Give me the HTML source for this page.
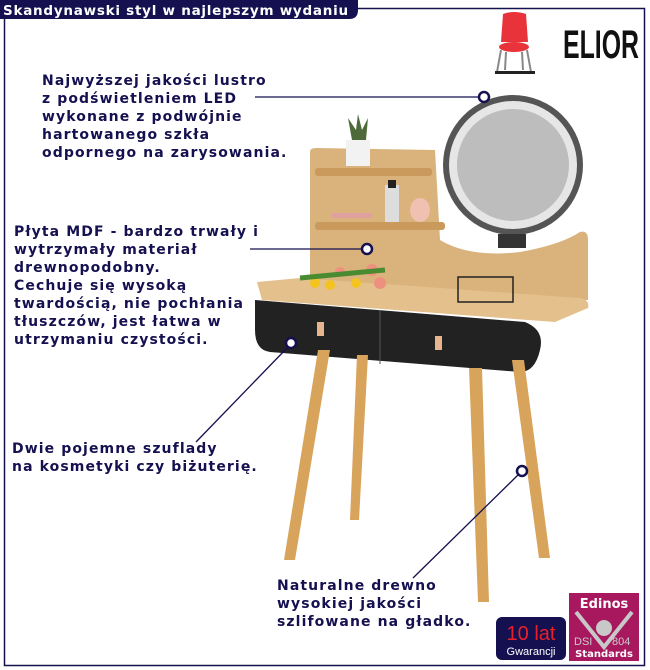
<!DOCTYPE html>
<html><head><meta charset="utf-8"><style>
body{margin:0;width:650px;height:670px;background:#fff;overflow:hidden}
svg{display:block}
.t{font-family:"DejaVu Sans",Verdana,sans-serif;font-weight:bold;font-size:14px;letter-spacing:1.1px;fill:#15104f}
</style></head><body>
<svg width="650" height="670" viewBox="0 0 650 670">
<rect x="4.5" y="8.5" width="640" height="657" fill="none" stroke="#15104f" stroke-width="1.5"/>
<path d="M0 0 H358 V10 Q358 19 349 19 H0 Z" fill="#15104f"/>
<text x="3" y="15" font-family="DejaVu Sans,sans-serif" font-weight="bold" font-size="13.5" letter-spacing="0.75" fill="#fff">Skandynawski styl w najlepszym wydaniu</text>
<!-- chair logo -->
<path d="M503 14 Q514 10 526 14 L528 42 L501 42 Z" fill="#e8333a"/>
<ellipse cx="514" cy="47" rx="15" ry="5" fill="#e8333a"/>
<path d="M501 50 L497 72 M527 50 L531 72 M506 52 L505 70 M522 52 L523 70" stroke="#888" stroke-width="2"/>
<rect x="495" y="71" width="40" height="3" fill="#222"/>
<text x="563" y="58" font-family="Liberation Sans Narrow,Liberation Sans,sans-serif" font-weight="bold" font-size="40" fill="#111" textLength="76" lengthAdjust="spacingAndGlyphs">ELIOR</text>
<!-- furniture -->
<path d="M310 152 Q310 148 316 148 L435 150 L440 240 Q470 258 520 252 Q560 245 580 232 Q588 230 588 240 L588 300 L310 300 Z" fill="#d9b27c"/>
<rect x="315" y="168" width="117" height="8" rx="3" fill="#c99a5c"/>
<rect x="315" y="222" width="130" height="8" rx="3" fill="#c99a5c"/>
<rect x="346" y="140" width="24" height="26" fill="#f2f2f2"/>
<path d="M352 140 L348 118 L356 130 L358 114 L362 130 L368 118 L366 140 Z" fill="#4f6a3a"/>
<rect x="385" y="185" width="14" height="37" fill="#ddd"/><rect x="388" y="180" width="8" height="8" fill="#222"/>
<ellipse cx="420" cy="210" rx="10" ry="12" fill="#f0c0b0"/>
<rect x="332" y="213" width="40" height="5" fill="#e0a0a0"/>
<circle cx="513" cy="165" r="70" fill="#555"/>
<circle cx="513" cy="165" r="64" fill="#e6e6e6"/>
<circle cx="513" cy="165" r="56" fill="#bdbdbd"/>
<rect x="498" y="234" width="28" height="14" fill="#333"/>
<path d="M257 282 L300 278 L580 298 Q590 300 588 308 L555 322 L262 300 Z" fill="#e3c08c"/>
<path d="M255 300 L525 322 Q545 330 540 350 Q535 372 520 372 L270 352 Q255 350 255 330 Z" fill="#222"/>
<line x1="380" y1="310" x2="380" y2="364" stroke="#555"/>
<rect x="317" y="322" width="7" height="14" fill="#e6b48f"/><rect x="435" y="336" width="7" height="14" fill="#e6b48f"/>
<path d="M318 350 L330 350 L295 560 L284 560 Z" fill="#d8a45c"/>
<path d="M357 355 L368 355 L359 520 L350 520 Z" fill="#d8a45c"/>
<path d="M469 368 L482 368 L489 602 L478 602 Z" fill="#d8a45c"/>
<path d="M512 360 L524 360 L550 558 L539 558 Z" fill="#d8a45c"/>
<g fill="#f3c320"><circle cx="315" cy="283" r="5"/><circle cx="330" cy="285" r="5"/><circle cx="356" cy="283" r="5"/></g>
<g fill="#ee9080"><circle cx="340" cy="272" r="5"/><circle cx="372" cy="270" r="6"/><circle cx="380" cy="283" r="6"/></g>
<path d="M300 278 L385 270" stroke="#4a8a30" stroke-width="5"/>
<rect x="458" y="277" width="55" height="25" fill="none" stroke="#222" stroke-width="1.5"/>
<!-- callouts -->
<g stroke="#15104f" stroke-width="1.3" fill="none">
<line x1="255" y1="97" x2="479" y2="97"/>
<line x1="250" y1="249" x2="362" y2="249"/>
<line x1="288" y1="347" x2="196" y2="442"/>
<line x1="518" y1="475" x2="413" y2="578"/>
</g>
<g fill="#fff" stroke="#15104f" stroke-width="2.5">
<circle cx="484" cy="97" r="5"/><circle cx="367" cy="249" r="5"/><circle cx="291" cy="343" r="5"/><circle cx="522" cy="471" r="5"/>
</g>
<text class="t"><tspan x="42" y="85">Najwyższej jakości lustro</tspan><tspan x="42" y="103">z podświetleniem LED</tspan><tspan x="42" y="121">wykonane z podwójnie</tspan><tspan x="42" y="139">hartowanego szkła</tspan><tspan x="42" y="157">odpornego na zarysowania.</tspan></text>
<text class="t"><tspan x="14" y="236">Płyta MDF - bardzo trwały i</tspan><tspan x="14" y="254">wytrzymały materiał</tspan><tspan x="14" y="272">drewnopodobny.</tspan><tspan x="14" y="290">Cechuje się wysoką</tspan><tspan x="14" y="308">twardością, nie pochłania</tspan><tspan x="14" y="326">tłuszczów, jest łatwa w</tspan><tspan x="14" y="344">utrzymaniu czystości.</tspan></text>
<text class="t"><tspan x="12" y="453">Dwie pojemne szuflady</tspan><tspan x="12" y="471">na kosmetyki czy biżuterię.</tspan></text>
<text class="t"><tspan x="277" y="590">Naturalne drewno</tspan><tspan x="277" y="608">wysokiej jakości</tspan><tspan x="277" y="626">szlifowane na gładko.</tspan></text>
<!-- badges -->
<rect x="496" y="617" width="70" height="43" rx="6" fill="#15104f"/>
<text x="531" y="640" text-anchor="middle" font-family="Liberation Sans,sans-serif" font-size="20" fill="#e8202a">10 lat</text>
<text x="531" y="655" text-anchor="middle" font-family="Liberation Sans,sans-serif" font-size="11" fill="#fff">Gwarancji</text>
<rect x="569" y="593" width="70" height="68" fill="#a8185e"/>
<text x="604" y="608" text-anchor="middle" font-family="DejaVu Sans,sans-serif" font-weight="bold" font-size="13" fill="#fff">Edinos</text>
<path d="M576 612 L604 647 L632 612" stroke="#c8c8c8" stroke-width="4" fill="none"/>
<circle cx="604" cy="628" r="8" fill="#c8c8c8"/>
<text x="574" y="645" font-family="Liberation Sans,sans-serif" font-size="11" fill="#ccc">DSI</text>
<text x="612" y="645" font-family="Liberation Sans,sans-serif" font-size="11" fill="#ccc">804</text>
<text x="604" y="657" text-anchor="middle" font-family="DejaVu Sans,sans-serif" font-weight="bold" font-size="10" fill="#fff">Standards</text>
</svg>
</body></html>
